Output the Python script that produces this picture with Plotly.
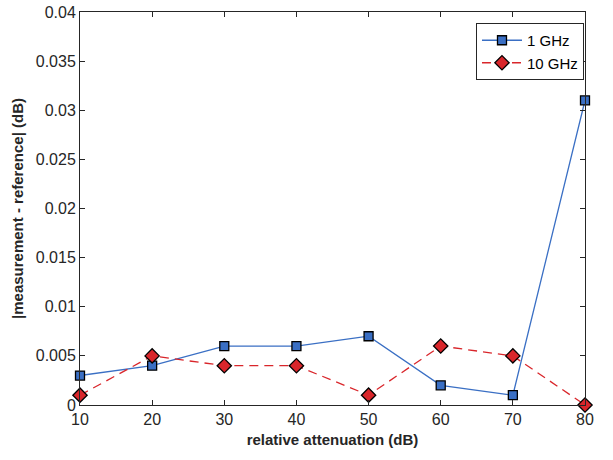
import plotly.graph_objects as go

attenuation = [10, 20, 30, 40, 50, 60, 70, 80]
err_1ghz = [0.003, 0.004, 0.006, 0.006, 0.007, 0.002, 0.001, 0.031]
err_10ghz = [0.001, 0.005, 0.004, 0.004, 0.001, 0.006, 0.005, 0.0]
y_ticks = [0, 0.005, 0.01, 0.015, 0.02, 0.025, 0.03, 0.035, 0.04]
y_ticktext = ["0", "0.005", "0.01", "0.015", "0.02", "0.025", "0.03", "0.035", "0.04"]
x_ticks = [10, 20, 30, 40, 50, 60, 70, 80]

FONT = "Liberation Sans, Arial, sans-serif"

fig = go.Figure()
fig.add_trace(go.Scatter(
    x=attenuation, y=err_1ghz, name="1 GHz", mode="lines+markers",
    line=dict(color="#3a6fc4", width=1.3),
    marker=dict(symbol="square", size=9, color="#3a6fc4", line=dict(color="black", width=1.3)),
    cliponaxis=False,
))
fig.add_trace(go.Scatter(
    x=attenuation, y=err_10ghz, name="10 GHz", mode="lines+markers",
    line=dict(color="#d9262b", width=1.3, dash="9px,6px"),
    marker=dict(symbol="diamond", size=11, color="#d9262b", line=dict(color="black", width=1.3)),
    cliponaxis=False,
))

axis_common = dict(
    showline=True, linecolor="#262626", linewidth=1, mirror="allticks",
    ticks="inside", ticklen=5, tickcolor="#262626", showgrid=False, zeroline=False,
    automargin=False, ticklabeloverflow="allow",
    tickfont=dict(family=FONT, size=16, color="#262626"),
)
fig.update_xaxes(range=[10, 80], tickvals=x_ticks, **axis_common,
                 title=dict(text="<b>relative attenuation (dB)</b>", standoff=7,
                            font=dict(family=FONT, size=15, color="#262626")))
fig.update_yaxes(range=[0, 0.04], tickvals=y_ticks, ticktext=y_ticktext, **axis_common,
                 title=dict(text="<b>|measurement - reference| (dB)</b>", standoff=8,
                            font=dict(family=FONT, size=15, color="#262626")))

fig.update_layout(
    width=613, height=460,
    margin=dict(l=80, r=28, t=12, b=55),
    plot_bgcolor="white", paper_bgcolor="white",
    legend=dict(x=0.998, y=0.972, xanchor="right", yanchor="top",
                bordercolor="#262626", borderwidth=1, bgcolor="white",
                font=dict(family=FONT, size=15, color="black"),
                tracegroupgap=0, itemwidth=40),
    showlegend=True,
)
fig.write_html("out.html", config={"displayModeBar": False},
               post_script="document.body.style.margin='0px';")
